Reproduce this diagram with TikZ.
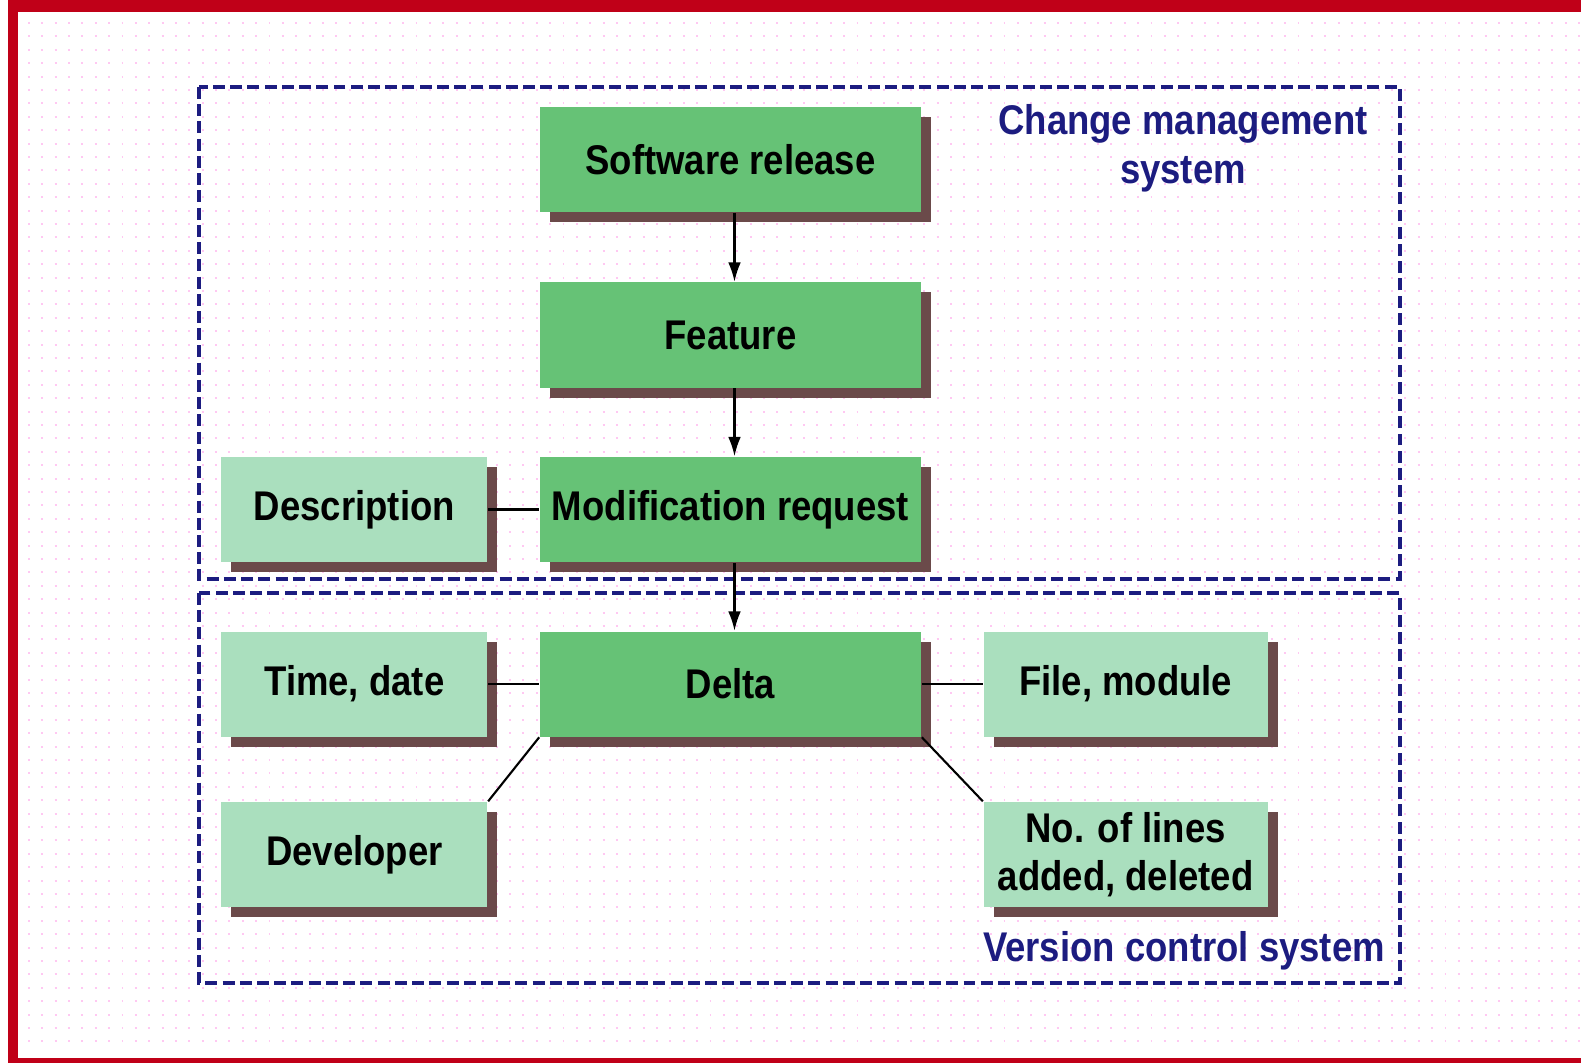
\documentclass[tikz,border=0pt]{standalone}
\usepackage{fontspec}
\usepackage{tikz}
\usetikzlibrary{arrows.meta,positioning,shadows}
\newfontfamily\boxfont[FakeStretch=0.88]{Liberation Sans}
\definecolor{frame}{HTML}{C00018}
\definecolor{navy}{HTML}{1C1C80}
\definecolor{boxgreen}{HTML}{66C276}
\definecolor{palegreen}{HTML}{AADFBE}
\definecolor{shade}{HTML}{6B4A4A}
\definecolor{griddot}{HTML}{FFC8F2}

\begin{document}
\begin{tikzpicture}[
  x=0.01cm, y=-0.01cm,
  every node/.style={font=\boxfont\bfseries\fontsize{11.8}{13.8}\selectfont},
  mainbox/.style={fill=boxgreen, minimum width=3.81cm, minimum height=1.05cm, inner sep=0pt, align=center,
    drop shadow={shadow xshift=0.1cm, shadow yshift=-0.1cm, fill=shade, opacity=1}},
  sidebox/.style={mainbox, fill=palegreen, minimum width=2.66cm},
  widebox/.style={sidebox, minimum width=2.84cm},
  system/.style={draw=navy, line width=1.2pt, dash pattern=on 3.4pt off 1.5pt},
  title/.style={text=navy, align=center},
  arrow/.style={-{Latex[length=5.5pt,width=3.6pt]}, line width=0.6pt},
  link/.style={line width=0.6pt}
]
\useasboundingbox (0,0) rectangle (1581,1063);

% dotted background and frame
\foreach \y in {23,36.4,...,1050}
  \draw[griddot, line width=0.55pt, dash pattern=on 0.55pt off 3.25pt] (28,\y) -- (1581,\y);
\fill[frame] (8,0) rectangle (1581,12);
\fill[frame] (8,0) rectangle (18,1063);
\fill[frame] (8,1058) rectangle (1581,1063);

% the two systems
\draw[system] (199,87) rectangle (1400,579);
\draw[system] (199,593) rectangle (1400,983);
\node[title] (cms) at (1183,148) {Change management\\system};
\node[title] (vcs) at (1184,951) {Version control system};

% entities
\node[mainbox] (release) at (730.5,159.5) {Software release};
\node[mainbox, below=0.69cm of release] (feature) {Feature};
\node[mainbox, below=0.68cm of feature] (modreq) {Modification request};
\node[mainbox, below=0.68cm of modreq] (delta) {Delta};
\node[sidebox, left=0.51cm of modreq] (descr) {Description};
\node[sidebox, left=0.51cm of delta] (timedate) {Time, date};
\node[sidebox, below=0.64cm of timedate] (developer) {Developer};
\node[widebox, right=0.61cm of delta] (filemod) {File, module};
\node[widebox, below=0.64cm of filemod] (nlines) {No. of lines\\added, deleted};

\draw[arrow] ([xshift=0.04cm]release.south) -- ([xshift=0.04cm]feature.north);
\draw[arrow] ([xshift=0.04cm]feature.south) -- ([xshift=0.04cm]modreq.north);
\draw[arrow] ([xshift=0.04cm]modreq.south) -- ([xshift=0.04cm]delta.north);

\draw[link] (descr.east) -- (modreq.west);
\draw[link] (timedate.east) -- (delta.west);
\draw[link] (delta.east) -- (filemod.west);
\draw[link] (delta.south west) -- (developer.north east);
\draw[link] (delta.south east) -- (nlines.north west);
\end{tikzpicture}
\end{document}
